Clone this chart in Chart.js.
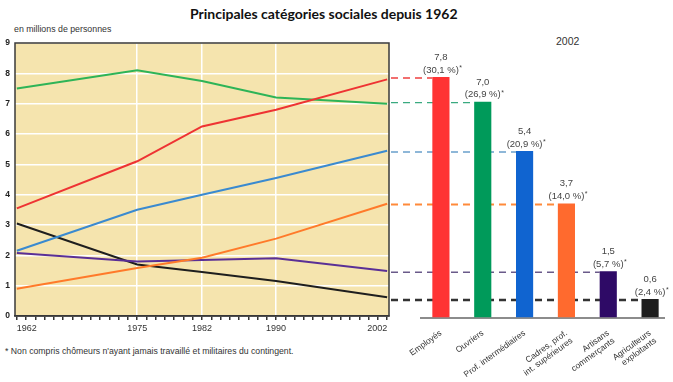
<!DOCTYPE html>
<html><head><meta charset="utf-8">
<script src="https://cdn.jsdelivr.net/npm/chart.js@4"></script>
<style>
html,body{margin:0;padding:0;background:#fff;width:673px;height:382px;overflow:hidden;}
.t{position:absolute;white-space:nowrap;color:#222;}
canvas{position:absolute;}
</style></head>
<body>
<div class="t" id="title" style="left:190px;top:5px;font:bold 14px Lato, 'Liberation Sans', sans-serif;color:#111;">Principales catégories sociales depuis 1962</div>
<div class="t" style="left:14px;top:24px;font:8.8px 'Liberation Sans', Arial, sans-serif;color:#333;">en millions de personnes</div>
<div class="t" style="left:556px;top:35px;font:10.5px 'Liberation Sans', Arial, sans-serif;color:#333;">2002</div>
<div class="t" style="left:5px;top:346px;font:8.7px 'Liberation Sans', Arial, sans-serif;color:#333;">* Non compris chômeurs n'ayant jamais travaillé et militaires du contingent.</div>
<canvas id="left" width="400" height="345" style="left:0;top:0;"></canvas>
<canvas id="right" width="284" height="382" style="left:389px;top:0;"></canvas>
<script>
// ---- data ----
const years = [1962, 1975, 1982, 1990, 2002];
const labeledYears = [1962, 1975, 1982, 1990, 2002];
const employes      = [3.55, 5.1, 6.25, 6.8, 7.8];
const ouvriers      = [7.5, 8.1, 7.75, 7.2, 7.0];
const profInter     = [2.15, 3.5, 4.0, 4.55, 5.45];
const cadres        = [0.9, 1.58, 1.92, 2.55, 3.7];
const artisans      = [2.08, 1.8, 1.85, 1.9, 1.48];
const agriculteurs  = [3.05, 1.7, 1.45, 1.15, 0.62];
const yTicks = [0,1,2,3,4,5,6,7,8,9];

const categories = ['Employés', 'Ouvriers', 'Prof. intermédiaires', ['Cadres, prof.', 'int. supérieures'], ['Artisans', 'commerçants'], ['Agriculteurs', 'exploitants']];
const values2002 = [7.8, 7.0, 5.4, 3.7, 1.5, 0.6];
const shares2002 = ['30,1', '26,9', '20,9', '14,0', '5,7', '2,4'];

const lineColors = ['#ee3333', '#2eb457', '#3a8ad0', '#ff7a2a', '#5a2f96', '#1e1e1e'];
const barColors  = ['#ff3333', '#009a5a', '#1064d0', '#ff6a2e', '#2e0a66', '#1e1e1e'];
const dashColors = ['#ee4040', '#3aaa80', '#6aa0cc', '#ff8a3a', '#6a5a8a', '#333333'];
const dashWidths = [1.3, 1.3, 1.3, 2, 1.3, 2.4];

const seriesList = [employes, ouvriers, profInter, cadres, artisans, agriculteurs];

function pts(arr){ return years.map((y,i)=>({x:y, y:arr[i]})); }

const bgPlugin = {
  id:'bg',
  beforeDraw(chart){
    const {ctx, chartArea:a} = chart;
    ctx.save(); ctx.fillStyle = '#f5e4ae';
    ctx.fillRect(a.left, a.top, a.right-a.left, a.bottom-a.top);
    ctx.restore();
  },
  afterDraw(chart){
    const {ctx, chartArea:a} = chart;
    ctx.save(); ctx.strokeStyle = '#3a3a3a'; ctx.lineWidth = 1.5;
    ctx.strokeRect(a.left, a.top, a.right-a.left, a.bottom-a.top);
    ctx.restore();
  }
};

new Chart(document.getElementById('left'), {
  type:'line',
  data:{ datasets: seriesList.map((s,i)=>({data:pts(s), borderColor:lineColors[i], borderWidth:2, pointRadius:0, tension:0, fill:false})) },
  options:{
    responsive:false, animation:false, devicePixelRatio:1,
    layout:{padding:{top:43, right:11, left:0, bottom:0}},
    plugins:{legend:{display:false}, tooltip:{enabled:false}},
    scales:{
      x:{type:'linear', min:1961.8, max:2002.2,
        afterBuildTicks(scale){ const t=[]; for(let y=1962;y<=2002;y++) t.push({value:y}); scale.ticks=t; },
        afterFit(scale){ scale.height = 29; },
        ticks:{autoSkip:false, maxRotation:0, align:'inner', padding:3, color:'#333',
          font:{family:"'Liberation Sans', Arial", size:9},
          callback:(v)=> labeledYears.includes(v) ? String(v) : ''},
        grid:{color:(c)=> (c.tick && [1975,1982,1990].includes(c.tick.value)) ? '#ffffff' : 'rgba(0,0,0,0)',
          tickColor:'#333', tickLength:4, lineWidth:1.5},
        border:{display:true, color:'#333', width:1.5}
      },
      y:{min:0, max:9,
        afterBuildTicks(scale){ scale.ticks = yTicks.map(v=>({value:v})); },
        afterFit(scale){ scale.width = 15; },
        ticks:{padding:5, color:'#222', font:{family:"'Liberation Sans', Arial", size:8.5, weight:'bold'}},
        grid:{color:'#ffffff', lineWidth:1.5, drawTicks:false},
        border:{display:false}
      }
    }
  },
  plugins:[bgPlugin]
});

const rightPlugin = {
  id:'rightDeco',
  beforeDatasetsDraw(chart){
    const {ctx, chartArea:a} = chart;
    const meta = chart.getDatasetMeta(0);
    const ys = chart.scales.y;
    ctx.save();
    values2002.forEach((v,i)=>{
      const bar = meta.data[i];
      const y = ys.getPixelForValue(v) + 1;
      ctx.strokeStyle = dashColors[i]; ctx.lineWidth = dashWidths[i];
      ctx.setLineDash([7,5]);
      ctx.beginPath(); ctx.moveTo(2, y); ctx.lineTo(bar.x - bar.width/2, y); ctx.stroke();
    });
    ctx.setLineDash([]);
    ctx.strokeStyle = '#666'; ctx.lineWidth = 1.5;
    ctx.beginPath(); ctx.moveTo(a.left, a.bottom+0.5); ctx.lineTo(276, a.bottom+0.5); ctx.stroke();
    ctx.restore();
  },
  afterDatasetsDraw(chart){
    const {ctx} = chart;
    const meta = chart.getDatasetMeta(0);
    ctx.save();
    ctx.fillStyle = '#444';
    ctx.textAlign = 'center'; ctx.textBaseline = 'alphabetic';
    values2002.forEach((v,i)=>{
      const bar = meta.data[i];
      ctx.font = "9.5px 'Liberation Sans', Arial";
      ctx.fillText(v.toFixed(1).replace('.', ','), bar.x, bar.y - 17);
      const s = '(' + shares2002[i] + ' %)';
      ctx.fillText(s, bar.x, bar.y - 4.5);
      const w = ctx.measureText(s).width;
      ctx.font = "7px 'Liberation Sans', Arial";
      ctx.textAlign = 'left';
      ctx.fillText('*', bar.x + w/2 + 0.5, bar.y - 7);
      ctx.textAlign = 'center';
    });
    ctx.restore();
  }
};

new Chart(document.getElementById('right'), {
  type:'bar',
  data:{ labels:categories, datasets:[{data:values2002, backgroundColor:barColors, borderWidth:0, barPercentage:0.41, categoryPercentage:1}] },
  options:{
    responsive:false, animation:false, devicePixelRatio:1,
    layout:{padding:{top:40, right:2, left:31, bottom:0}},
    plugins:{legend:{display:false}, tooltip:{enabled:false}},
    scales:{
      x:{offset:true,
        afterFit(scale){ scale.height = 64.5; },
        ticks:{autoSkip:false, minRotation:36, maxRotation:36, padding:3, color:'#333',
          font:{family:"'Liberation Sans', Arial", size:8.5, lineHeight:1.1}},
        grid:{display:false}, border:{display:false}
      },
      y:{display:false, min:0, max:9}
    }
  },
  plugins:[rightPlugin]
});
</script>
</body></html>
